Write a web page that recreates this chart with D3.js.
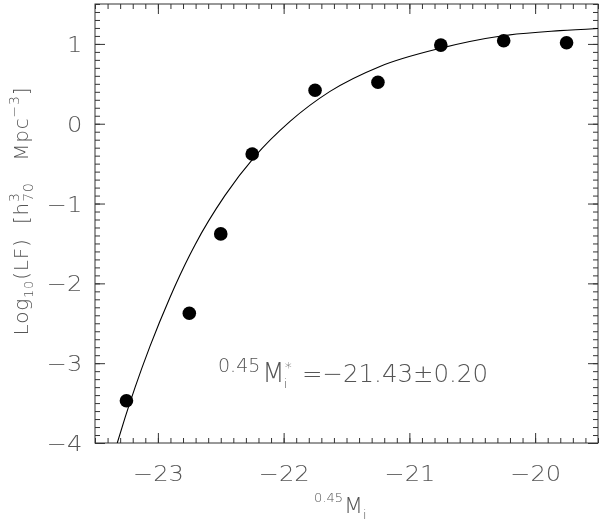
<!DOCTYPE html>
<html>
<head>
<meta charset="utf-8">
<script src="https://cdn.jsdelivr.net/npm/d3@7"></script>
<style>
  html, body { margin: 0; padding: 0; background: #fff; }
  svg { display: block; filter: grayscale(1); }
  text { font-family: "DejaVu Sans", "Liberation Sans", sans-serif; font-weight: 200; fill: #555; }
</style>
</head>
<body>
<svg id="chart" width="600" height="523"></svg>
<script>
// ---- data ----
const magBins = [-23.25, -22.75, -22.5, -22.25, -21.75, -21.25, -20.75, -20.25, -19.75];
const logLF   = [-3.47, -2.375, -1.38, -0.38, 0.42, 0.52, 0.985, 1.04, 1.015];

// fitted curve, points
const fitMag   = [-23.323, -23.261, -23.182, -23.063, -22.904, -22.705, -22.466, -22.228, -21.949, -21.631, -21.234, -20.757, -20.256, -19.802, -19.5];
const fitLogLF = [-4.0, -3.682, -3.306, -2.79, -2.176, -1.518, -0.898, -0.409, 0.029, 0.405, 0.718, 0.944, 1.102, 1.166, 1.194];

const xMajorTicks = [-23, -22, -21, -20];
const yMajorTicks = [-4, -3, -2, -1, 0, 1];
const xDomain = [-23.5, -19.5];
const yDomain = [-4, 1.5];

const annotationSup = "0.45";
const annotationMain = "M";
const annotationValue = "=\u221221.43\u00b10.20";

// ---- layout ----
const svg = d3.select("#chart");
const L = 95, T = 4, R = 598, B = 443;
const x = d3.scaleLinear().domain(xDomain).range([L, R]);
const y = d3.scaleLinear().domain(yDomain).range([B, T]);
const fmt = d => d < 0 ? "\u2212" + Math.abs(d) : String(d);
const axisColor = "#333";

function styleAxis(g) {
  g.select(".domain").remove();
  g.selectAll(".tick line").attr("stroke", axisColor).attr("stroke-width", 1);
}

const xMinor = x.ticks(40);
const yMinor = y.ticks(55);

// bottom minor + major
svg.append("g").attr("transform", `translate(0,${B})`)
  .call(d3.axisBottom(x).tickValues(xMinor).tickSizeInner(-5).tickSizeOuter(0).tickFormat(""))
  .call(styleAxis);
const xb = svg.append("g").attr("transform", `translate(0,${B})`)
  .call(d3.axisBottom(x).tickValues(xMajorTicks).tickSizeInner(-10).tickSizeOuter(0).tickFormat(fmt))
  .call(styleAxis);
xb.selectAll(".tick text")
  .attr("y", 38).attr("dy", 0)
  .attr("transform", "scale(1.15,1)")
  .style("font-size", "21px").style("font-family", null).attr("fill", null);

// top
svg.append("g").attr("transform", `translate(0,${T})`)
  .call(d3.axisTop(x).tickValues(xMinor).tickSizeInner(-5).tickSizeOuter(0).tickFormat(""))
  .call(styleAxis);
svg.append("g").attr("transform", `translate(0,${T})`)
  .call(d3.axisTop(x).tickValues(xMajorTicks).tickSizeInner(-10).tickSizeOuter(0).tickFormat(""))
  .call(styleAxis);

// left
svg.append("g").attr("transform", `translate(${L},0)`)
  .call(d3.axisLeft(y).tickValues(yMinor).tickSizeInner(-5).tickSizeOuter(0).tickFormat(""))
  .call(styleAxis);
const yl = svg.append("g").attr("transform", `translate(${L},0)`)
  .call(d3.axisLeft(y).tickValues(yMajorTicks).tickSizeInner(-10).tickSizeOuter(0).tickFormat(fmt))
  .call(styleAxis);
yl.selectAll(".tick text")
  .attr("x", -11).attr("dy", "0.36em")
  .attr("transform", "scale(1.15,1)")
  .style("font-size", "21px").style("font-family", null).attr("fill", null);

// right
svg.append("g").attr("transform", `translate(${R},0)`)
  .call(d3.axisRight(y).tickValues(yMinor).tickSizeInner(-5).tickSizeOuter(0).tickFormat(""))
  .call(styleAxis);
svg.append("g").attr("transform", `translate(${R},0)`)
  .call(d3.axisRight(y).tickValues(yMajorTicks).tickSizeInner(-10).tickSizeOuter(0).tickFormat(""))
  .call(styleAxis);

// frame
svg.append("rect").attr("x", L).attr("y", T).attr("width", R - L).attr("height", B - T)
  .attr("fill", "none").attr("stroke", axisColor).attr("stroke-width", 1);

// clip
svg.append("clipPath").attr("id", "plotclip").append("rect")
  .attr("x", L).attr("y", T).attr("width", R - L).attr("height", B - T);

// fit curve
const fitData = fitMag.map((m, i) => [m, fitLogLF[i]]);
svg.append("path")
  .datum(fitData)
  .attr("clip-path", "url(#plotclip)")
  .attr("fill", "none").attr("stroke", "#000").attr("stroke-width", 1.1)
  .attr("d", d3.line().x(d => x(d[0])).y(d => y(d[1])).curve(d3.curveMonotoneX));

// points
svg.append("g").selectAll("circle")
  .data(magBins.map((m, i) => [m, logLF[i]]))
  .join("circle")
  .attr("cx", d => x(d[0])).attr("cy", d => y(d[1])).attr("r", 6.8)
  .attr("fill", "#000");

// x title
const xt = svg.append("text").attr("x", 314).attr("y", 513).style("font-size", "22px");
xt.append("tspan").attr("dy", -11).style("font-size", "13px").text("0.45");
xt.append("tspan").attr("dy", 11).attr("dx", 1).text("M");
xt.append("tspan").attr("dy", 6).style("font-size", "13px").text("i");

// y title
const ytt = svg.append("text")
  .attr("transform", "translate(28,211) rotate(-90)")
  .attr("text-anchor", "middle")
  .style("font-size", "20px")
  .style("letter-spacing", "0.8px");
ytt.append("tspan").text("Log");
ytt.append("tspan").attr("dy", 5).style("font-size", "13px").text("10");
ytt.append("tspan").attr("dy", -5).text("(LF)\u00a0\u00a0[h");
ytt.append("tspan").attr("dy", -9).style("font-size", "14px").text("3");
ytt.append("tspan").attr("dx", -9.5).attr("dy", 14).style("font-size", "14px").text("70");
ytt.append("tspan").attr("dy", -5).text("\u00a0\u00a0\u00a0Mpc");
ytt.append("tspan").attr("dy", -9).style("font-size", "14px").text("\u22123");
ytt.append("tspan").attr("dy", 9).text("]");

// annotation (one text element)
const ann = svg.append("text").attr("x", 218).attr("y", 382).style("font-size", "26px");
ann.append("tspan").attr("dy", -10).style("font-size", "19px").text(annotationSup);
ann.append("tspan").attr("dy", 10).attr("dx", 2).text(annotationMain);
ann.append("tspan").attr("dy", -10).style("font-size", "14px").text("*");
ann.append("tspan").attr("dx", -8).attr("dy", 16).style("font-size", "13px").text("i");
ann.append("tspan").attr("x", 302).attr("y", 382).style("font-size", "25px")
  .attr("textLength", 186).attr("lengthAdjust", "spacingAndGlyphs").text(annotationValue);
</script>
</body>
</html>
